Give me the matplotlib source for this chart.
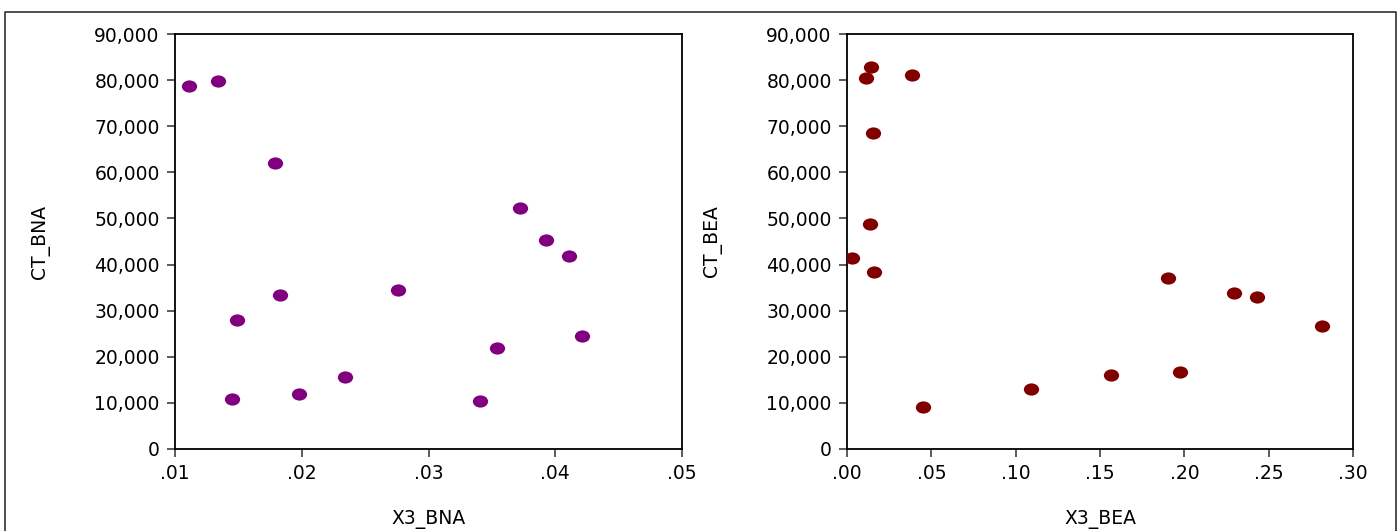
import matplotlib
matplotlib.use("Agg")
import matplotlib.pyplot as plt
from matplotlib.path import Path
from matplotlib.transforms import Affine2D
from matplotlib.ticker import FuncFormatter
from matplotlib.lines import Line2D

# scatter data
x3_bna = [.0111, .0134, .0179, .0183, .0149, .0145, .0198, .0234, .0276,
          .0341, .0354, .0372, .0393, .0411, .0421]
ct_bna = [78800, 79800, 62000, 33300, 27900, 10900, 11900, 15700, 34500,
          10500, 22000, 52200, 45400, 41900, 24600]

x3_bea = [.0142, .0111, .0388, .0154, .0136, .0031, .0160, .0449, .1089,
          .1567, .1905, .1976, .2296, .2430, .2814]
ct_bea = [82900, 80400, 81200, 68600, 48700, 41400, 38400, 9200, 13000,
          16100, 37000, 16600, 33900, 33000, 26700]

bna_ticks = [.01, .02, .03, .04, .05]
bea_ticks = [.00, .05, .10, .15, .20, .25, .30]
y_ticks = list(range(0, 90001, 10000))

plt.rcParams['font.family'] = ['DejaVu Sans']

W, H = 1400, 531
fig = plt.figure(figsize=(W / 100, H / 100), dpi=100)

# stretched dots -> ellipse marker
oval = Path.unit_circle().transformed(Affine2D().scale(1.25, 1.0))


def dec(v, pos):
    s = "%.2f" % v
    return s[1:] if s.startswith("0") else s


def panel(left, right, xs, ys, color, xlim, xticks, xlabel, ylabel):
    ax = fig.add_axes([left / W, 1 - 449 / H, (right - left) / W, 415 / H])
    ax.scatter(xs, ys, s=11 ** 2, marker=oval, color=color, linewidths=0,
               zorder=3)
    ax.set_xlim(*xlim)
    ax.set_ylim(0, 90000)
    ax.set_xticks(xticks)
    ax.set_yticks(y_ticks)
    ax.xaxis.set_major_formatter(FuncFormatter(dec))
    ax.yaxis.set_major_formatter(FuncFormatter(lambda v, p: "{:,.0f}".format(v)))
    ax.tick_params(direction='out', length=6, width=1.2, color='#404040',
                   labelsize=13.5, pad=5)
    for sp in ax.spines.values():
        sp.set_linewidth(1.3)
    ax.set_xlabel(xlabel, fontsize=13.5)
    ax.set_ylabel(ylabel, fontsize=13.5)
    ax.xaxis.set_label_coords(0.5, -0.171)
    ax.xaxis.label.set_va('center')
    ax.yaxis.set_label_coords(-0.266, 0.5)
    ax.yaxis.label.set_va('center')
    return ax


panel(175, 682, x3_bna, ct_bna, '#800080', (.01, .05), bna_ticks,
      'X3_BNA', 'CT_BNA')
panel(847, 1353, x3_bea, ct_bea, '#800000', (0, .30), bea_ticks,
      'X3_BEA', 'CT_BEA')

# outer frame (open at the bottom)
fx0, fx1, fy = 4.5 / W, 1396 / W, 1 - 12 / H
fig.add_artist(Line2D([fx0, fx0, fx1, fx1], [0, fy, fy, 0],
                      transform=fig.transFigure, color='#303030', lw=1.2))

fig.savefig('out.png', dpi=100)
